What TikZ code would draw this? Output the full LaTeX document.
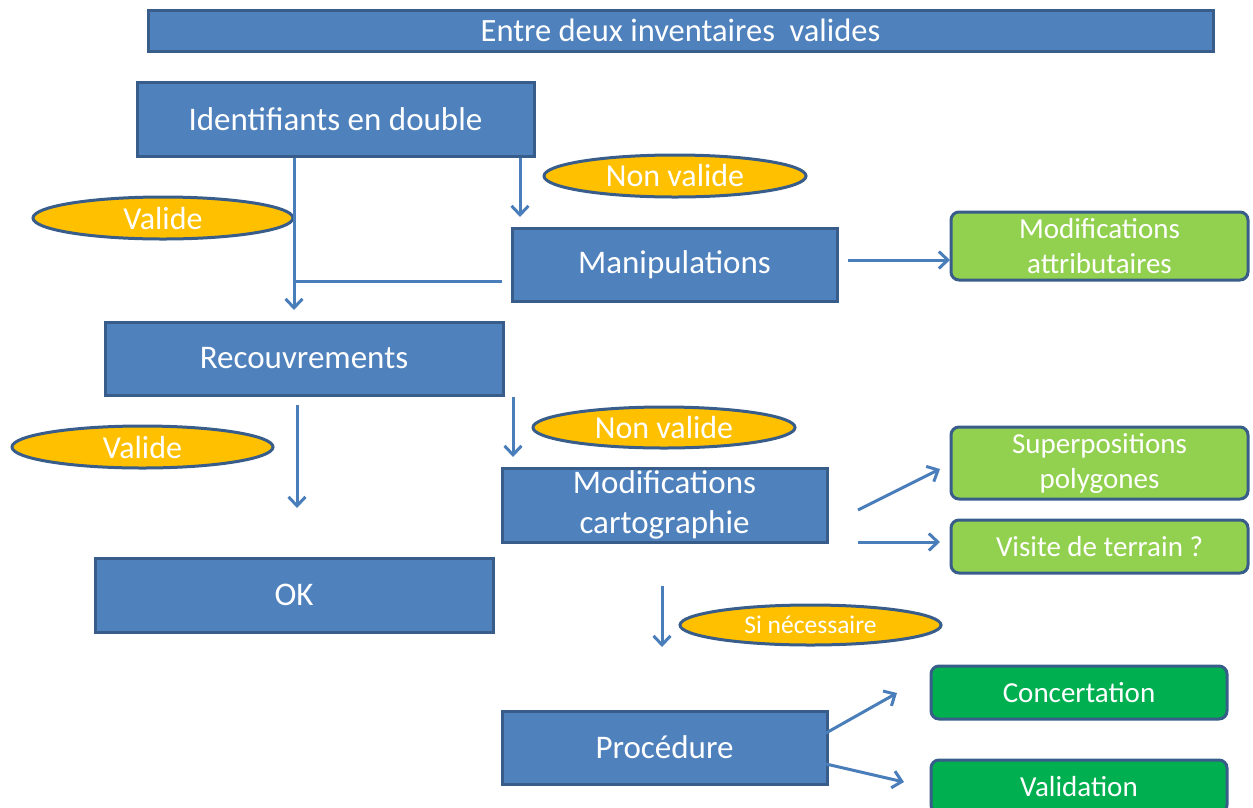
\documentclass[tikz,border=0pt]{standalone}
\usepackage{fontspec}
\setmainfont{Carlito}
\usetikzlibrary{arrows.meta,shapes.geometric}
\definecolor{boxblue}{HTML}{4F81BD}
\definecolor{edgeblue}{HTML}{385D8A}
\definecolor{arrblue}{HTML}{4A7EBB}
\definecolor{lgreen}{HTML}{92D050}
\definecolor{dgreen}{HTML}{00B050}
\definecolor{yel}{HTML}{FFC000}
\tikzset{
  bluebox/.style={draw=edgeblue, line width=3pt, fill=boxblue, text=white, inner sep=0pt, align=center, font=\fontsize{33}{40}\selectfont},
  greenbox/.style={draw=edgeblue, line width=3pt, fill=lgreen, rounded corners=8pt, text=white, inner sep=0pt, align=center, font=\fontsize{29}{35}\selectfont},
  dgreenbox/.style={greenbox, fill=dgreen},
  oval/.style={ellipse, draw=edgeblue, line width=3pt, fill=yel, text=white, inner sep=0pt, font=\fontsize{32}{38}\selectfont},
  arr/.style={draw=arrblue, line width=3pt, -{Straight Barb[length=9pt,width=17pt]}},
  plainline/.style={draw=arrblue, line width=3pt},
}
\begin{document}
\begin{tikzpicture}[x=1pt,y=-1pt]
\useasboundingbox (0,0) rectangle (1253,807);
\clip (0,0) rectangle (1253,807);
% nodes
\node[bluebox, minimum width=1065pt, minimum height=41pt, font=\fontsize{32.5}{38}\selectfont] (top) at (680.5,30.5) {Entre deux inventaires\ \ valides};
\node[bluebox, minimum width=397pt, minimum height=74pt] (ident) at (335.5,119) {Identifiants en double};
\node[oval, minimum width=260pt, minimum height=42pt] (val1) at (163,218) {Valide};
\node[oval, minimum width=262pt, minimum height=42pt] (nval1) at (675,176) {Non valide};
\node[bluebox, minimum width=325pt, minimum height=73pt] (manip) at (674.5,264.5) {Manipulations};
\node[greenbox, minimum width=297pt, minimum height=68pt] (modattr) at (1099.5,246) {Modifications\\attributaires};
\node[bluebox, minimum width=398pt, minimum height=73pt] (recouv) at (304,358.5) {Recouvrements};
\node[oval, minimum width=261pt, minimum height=42pt] (val2) at (142.5,447) {Valide};
\node[oval, minimum width=262pt, minimum height=41pt] (nval2) at (664,427.5) {Non valide};
\node[bluebox, minimum width=325pt, minimum height=74pt] (modcarto) at (664.5,505) {Modifications\\cartographie};
\node[greenbox, minimum width=297pt, minimum height=72pt] (superpos) at (1099.5,463) {Superpositions\\polygones};
\node[greenbox, minimum width=297pt, minimum height=53pt] (visite) at (1099.5,546.5) {Visite de terrain ?};
\node[bluebox, minimum width=398pt, minimum height=74pt] (ok) at (294,595) {OK};
\node[oval, minimum width=261pt, minimum height=40pt, font=\fontsize{25.5}{30}\selectfont] (sinec) at (810.5,625) {Si nécessaire};
\node[bluebox, minimum width=325pt, minimum height=73pt] (proc) at (664.5,747.5) {Procédure};
\node[dgreenbox, minimum width=296pt, minimum height=53pt] (concert) at (1079,692.5) {Concertation};
\node[dgreenbox, minimum width=296pt, minimum height=53pt] (valid) at (1079,786.5) {Validation};
% connector end points
\coordinate (a1e) at (520,217);
\coordinate (a2e) at (294,310);
\coordinate (j1) at (294,281);
\coordinate (m1) at (502,281);
\coordinate (a3s) at (848,260);
\coordinate (a3e) at (950,260);
\coordinate (a4s) at (297,405);
\coordinate (a4e) at (297,508);
\coordinate (a5e) at (513,457);
\coordinate (a6s) at (858,510);
\coordinate (a6e) at (940,469);
\coordinate (a7s) at (858,542);
\coordinate (a7e) at (940,542);
\coordinate (a8s) at (662,586);
\coordinate (a8e) at (662,647);
\coordinate (a9s) at (826,733);
\coordinate (a9e) at (897,693);
\coordinate (a10s) at (826,764);
\coordinate (a10e) at (904,782);
% connectors
\draw[arr] (a1e |- ident.south) -- (a1e);
\draw[arr] (a2e |- ident.south) -- (a2e);
\draw[plainline] (m1) -- (j1);
\draw[arr] (a3s) -- (a3e);
\draw[arr] (a4s) -- (a4e);
\draw[arr] (a5e |- recouv.south) -- (a5e);
\draw[arr] (a6s) -- (a6e);
\draw[arr] (a7s) -- (a7e);
\draw[arr] (a8s) -- (a8e);
\draw[arr] (a9s) -- (a9e);
\draw[arr] (a10s) -- (a10e);
\end{tikzpicture}
\end{document}
